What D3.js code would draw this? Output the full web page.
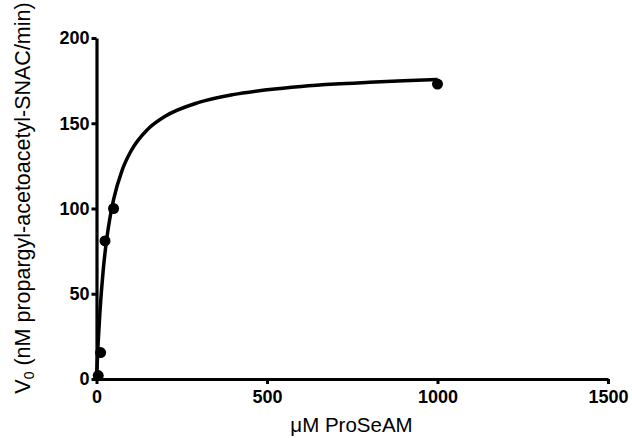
<!DOCTYPE html>
<html>
<head>
<meta charset="utf-8">
<script src="https://cdn.jsdelivr.net/npm/d3@7"></script>
<style>
  body { margin: 0; background: #fff; }
</style>
</head>
<body>
<div class="container"></div>
<script>
// measured points
const substrate = [5, 12, 25, 50, 1000];
const velocity = [2, 15.5, 81, 100, 173];

// fitted curve
const fitX = [0, 5, 10, 20, 30, 40, 50, 75, 100, 150, 200, 300, 400, 500, 600, 700, 800, 900, 1000];
const fitY = [0, 21.9, 39.1, 64.5, 82.2, 95.2, 105.2, 122.4, 133.3, 146.4, 153.9, 162.2, 166.8, 169.6, 171.6, 173, 174, 174.9, 175.6];

const xTicks = [0, 500, 1000, 1500];
const yTicks = [0, 50, 100, 150, 200];

const width = 632;
const height = 438;
const margin = {top: 38, right: 24, bottom: 59, left: 96.5};
const font = "'Liberation Sans', Arial, sans-serif";

const svg = d3.select(".container")
              .append("svg")
                .attr("width", width)
                .attr("height", height);

const x = d3.scaleLinear().domain([0, 1500]).range([margin.left, width - margin.right]);
const y = d3.scaleLinear().domain([0, 200]).range([height - margin.bottom, margin.top]);

// x axis
const xAxis = svg.append("g")
                 .attr("transform", "translate(0," + y(0) + ")")
                 .call(d3.axisBottom(x).tickValues(xTicks).tickFormat(d3.format("d"))
                         .tickSize(5).tickSizeOuter(0).tickPadding(6));

// y axis
const yAxis = svg.append("g")
                 .attr("transform", "translate(" + x(0) + ",0)")
                 .call(d3.axisLeft(y).tickValues(yTicks).tickFormat(d3.format("d"))
                         .tickSize(5).tickSizeOuter(0).tickPadding(2));

[xAxis, yAxis].forEach(g => {
  g.attr("font-family", font).attr("font-size", 18).attr("font-weight", "bold");
  g.select(".domain").attr("stroke", "#000").attr("stroke-width", 3.2);
  g.selectAll(".tick line").attr("stroke", "#000").attr("stroke-width", 3);
  g.selectAll(".tick text").attr("fill", "#000");
});

// fit line
const line = d3.line()
               .x(d => x(d[0]))
               .y(d => y(d[1]))
               .curve(d3.curveMonotoneX);

svg.append("path")
   .datum(d3.zip(fitX, fitY))
   .attr("fill", "none")
   .attr("stroke", "#000")
   .attr("stroke-width", 3.5)
   .attr("d", line);

// data points
svg.selectAll(".dot")
   .data(d3.zip(substrate, velocity))
   .enter()
   .append("circle")
     .classed("dot", true)
     .attr("cx", d => x(d[0]))
     .attr("cy", d => y(d[1]))
     .attr("r", 5.5)
     .attr("fill", "#000");

// axis titles
svg.append("text")
   .attr("font-family", font)
   .attr("x", 351.5)
   .attr("y", 431.5)
   .attr("text-anchor", "middle")
   .attr("font-size", 20.5)
   .text("\u03bcM ProSeAM");

const yTitle = svg.append("text")
   .attr("font-family", font)
   .attr("transform", "translate(30,198) rotate(-90)")
   .attr("text-anchor", "middle")
   .attr("font-size", 21.5);

yTitle.append("tspan").text("V");
yTitle.append("tspan").attr("font-size", 14).attr("dy", 4).text("0");
yTitle.append("tspan").attr("dy", -4).text(" (nM propargyl-acetoacetyl-SNAC/min)");
</script>
</body>
</html>
